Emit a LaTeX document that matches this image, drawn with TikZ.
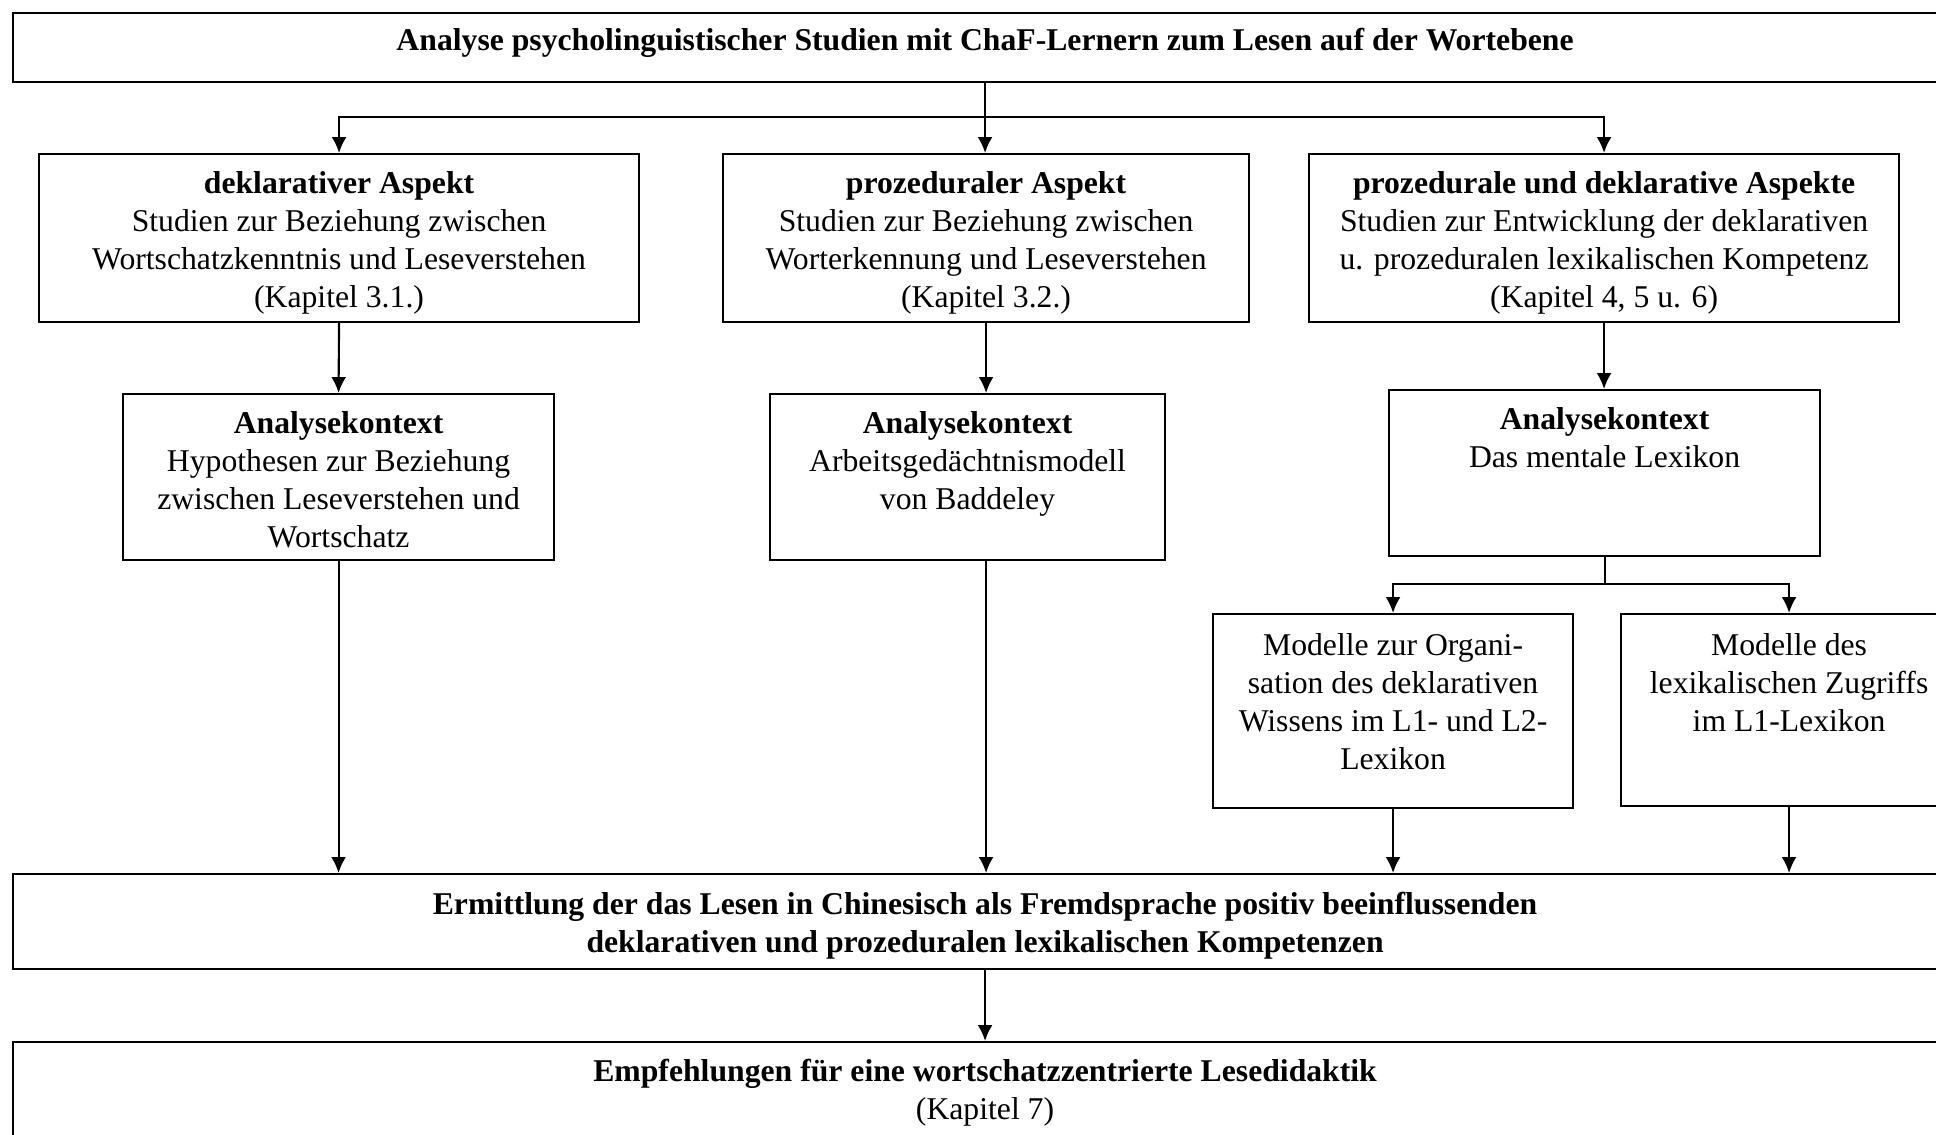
\documentclass[tikz,border=0pt]{standalone}
\usepackage{fontspec}
\setmainfont{Liberation Serif}
\usepackage{tikz}
\usetikzlibrary{calc}
\usetikzlibrary{arrows.meta}

\newcommand{\pxl}{0.3786pt}

\tikzset{
    box/.style={draw, line width=0.8pt, inner sep=0pt, anchor=north west},
    txt/.style={align=center, inner sep=0pt, anchor=north, font=\fontsize{12}{14.4}\selectfont},
    pfeil/.style={line width=0.8pt, -{Latex[length=6pt,width=5.6pt]}},
    linie/.style={line width=0.8pt}
}

\begin{document}
\begin{tikzpicture}[x=\pxl, y=-\pxl]
    \useasboundingbox (0,0) rectangle (1936,1134);
    \clip (0,0) rectangle (1936,1134);

    \node [box, minimum width=1944*\pxl, minimum height=69*\pxl] (analyse) at (12,12) {};
    \node [box, minimum width=600*\pxl, minimum height=168*\pxl] (dekl) at (38,153) {};
    \node [box, minimum width=526*\pxl, minimum height=168*\pxl] (proz) at (722,153) {};
    \node [box, minimum width=590*\pxl, minimum height=168*\pxl] (beide) at (1308,153) {};
    \node [box, minimum width=431*\pxl, minimum height=166*\pxl] (kontextA) at (122,393) {};
    \node [box, minimum width=395*\pxl, minimum height=166*\pxl] (kontextB) at (769,393) {};
    \node [box, minimum width=431*\pxl, minimum height=166*\pxl] (kontextC) at (1388,389) {};
    \node [box, minimum width=360*\pxl, minimum height=194*\pxl] (orga) at (1212,613) {};
    \node [box, minimum width=336*\pxl, minimum height=192*\pxl] (zugriff) at (1620,613) {};
    \node [box, minimum width=1944*\pxl, minimum height=95*\pxl] (ermittlung) at (12,873) {};
    \node [box, minimum width=1944*\pxl, minimum height=110*\pxl] (empfehlung) at (12,1041) {};

    \node [txt] (analyseT) at ([yshift=-16*\pxl]analyse.north)
        {\textbf{Analyse psycholinguistischer Studien mit ChaF-Lernern zum Lesen auf der Wortebene}};
    \node [txt] (deklT) at ([yshift=-18*\pxl]dekl.north)
        {\textbf{deklarativer Aspekt}\\Studien zur Beziehung zwischen\\Wortschatzkenntnis und Leseverstehen\\(Kapitel 3.1.)};
    \node [txt] (prozT) at ([yshift=-18*\pxl]proz.north)
        {\textbf{prozeduraler Aspekt}\\Studien zur Beziehung zwischen\\Worterkennung und Leseverstehen\\(Kapitel 3.2.)};
    \node [txt] (beideT) at ([yshift=-18*\pxl]beide.north)
        {\textbf{prozedurale und deklarative Aspekte}\\Studien zur Entwicklung der deklarativen\\u. prozeduralen lexikalischen Kompetenz\\(Kapitel 4, 5 u. 6)};
    \node [txt] (kontextAT) at ([yshift=-18*\pxl]kontextA.north)
        {\textbf{Analysekontext}\\Hypothesen zur Beziehung\\zwischen Leseverstehen und\\Wortschatz};
    \node [txt] (kontextBT) at ([yshift=-18*\pxl]kontextB.north)
        {\textbf{Analysekontext}\\Arbeitsgedächtnismodell\\von Baddeley};
    \node [txt] (kontextCT) at ([yshift=-18*\pxl]kontextC.north)
        {\textbf{Analysekontext}\\Das mentale Lexikon};
    \node [txt] (orgaT) at ([yshift=-20*\pxl]orga.north)
        {Modelle zur Organi-\\sation des deklarativen\\Wissens im L1- und L2-\\Lexikon};
    \node [txt] (zugriffT) at ([yshift=-20*\pxl]zugriff.north)
        {Modelle des\\lexikalischen Zugriffs\\im L1-Lexikon};
    \node [txt] (ermittlungT) at ([yshift=-19*\pxl]ermittlung.north)
        {\textbf{Ermittlung der das Lesen in Chinesisch als Fremdsprache positiv beeinflussenden}\\\textbf{deklarativen und prozeduralen lexikalischen Kompetenzen}};
    \node [txt] (empfehlungT) at ([yshift=-18*\pxl]empfehlung.north)
        {\textbf{Empfehlungen für eine wortschatzzentrierte Lesedidaktik}\\(Kapitel 7)};

    \coordinate (S0) at (analyse.south |- 0,117);
    \coordinate (S1) at (kontextC.south |- 0,584);

    \draw [linie](analyse.south) -- (S0);
    \draw [pfeil](S0) -| (dekl.north);
    \draw [pfeil](S0) -- (S0 |- proz.north);
    \draw [pfeil](S0) -| (beide.north);

    \draw [pfeil](dekl.south) -- (kontextA.north);
    \draw [pfeil](proz.south) -- (proz.south |- kontextB.north);
    \draw [pfeil](beide.south) -- (beide.south |- kontextC.north);

    \draw [linie](kontextC.south) -- (S1);
    \draw [pfeil](S1) -| (orga.north);
    \draw [pfeil](S1) -| (zugriff.north);

    \draw [pfeil](kontextA.south) -- (kontextA.south |- ermittlung.north);
    \draw [pfeil](proz.south |- kontextB.south) -- (proz.south |- ermittlung.north);
    \draw [pfeil](orga.south) -- (orga.south |- ermittlung.north);
    \draw [pfeil](zugriff.south) -- (zugriff.south |- ermittlung.north);

    \draw [pfeil](ermittlung.south) -- (empfehlung.north);
\end{tikzpicture}
\end{document}
